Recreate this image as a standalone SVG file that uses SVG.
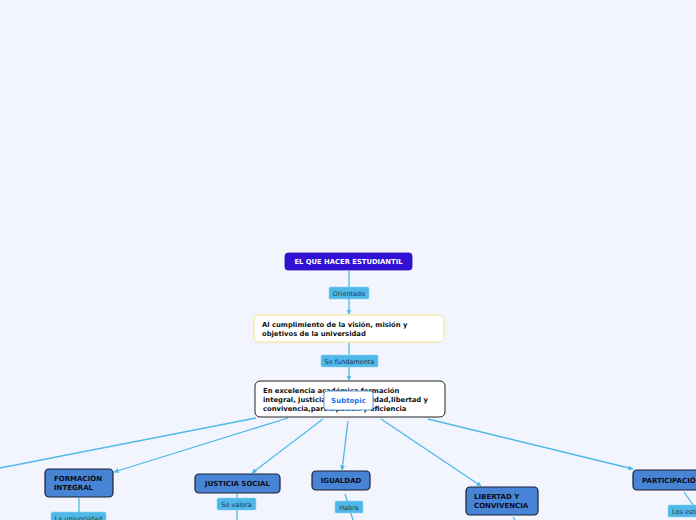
<svg xmlns="http://www.w3.org/2000/svg" width="696" height="520" viewBox="0 0 696 520">
<defs>
<marker id="arr" viewBox="0 0 10 10" refX="9" refY="5" markerWidth="5" markerHeight="5" orient="auto-start-reverse" markerUnits="userSpaceOnUse">
<path d="M0,0 L10,5 L0,10 z" fill="#4fb8e8"/>
</marker>
<style>
.ln{stroke:#4fb8e8;stroke-width:1.3;fill:none}
.lbl{fill:#4fb8e8;stroke:#8fd3f2;stroke-width:0.6}
.lt{font-family:"DejaVu Sans",sans-serif;font-size:6.5px;fill:#23384a}
.main{fill:#4784d6;stroke:#1b1e2e;stroke-width:1.2}
.mt{font-family:"DejaVu Sans",sans-serif;font-weight:bold;font-size:7px;fill:#0d0d1a}
.bt{font-family:"DejaVu Sans",sans-serif;font-weight:bold;font-size:6.8px;fill:#111}
</style>
</defs>
<rect width="696" height="520" fill="#f2f5fe"/>
<g id="connectors">
<line class="ln" x1="349" y1="271" x2="349" y2="314" marker-end="url(#arr)"/>
<line class="ln" x1="349" y1="343" x2="349" y2="380" marker-end="url(#arr)"/>
<line class="ln" x1="256" y1="418" x2="-5" y2="469"/>
<line class="ln" x1="288" y1="418" x2="114" y2="472" marker-end="url(#arr)"/>
<line class="ln" x1="323" y1="419" x2="252" y2="473" marker-end="url(#arr)"/>
<line class="ln" x1="348" y1="421" x2="342" y2="470" marker-end="url(#arr)"/>
<line class="ln" x1="381" y1="419" x2="481" y2="486" marker-end="url(#arr)"/>
<line class="ln" x1="428" y1="419" x2="633" y2="469" marker-end="url(#arr)"/>
<line class="ln" x1="79" y1="498" x2="79" y2="520"/>
<line class="ln" x1="237" y1="494" x2="237" y2="520"/>
<line class="ln" x1="345" y1="494" x2="353" y2="520"/>
<line class="ln" x1="513" y1="517" x2="515" y2="520"/>
<line class="ln" x1="684" y1="492" x2="698" y2="512"/>
<rect class="lbl" x="329" y="287" width="40" height="12" rx="1.5"/>
<text class="lt" x="349" y="295.5" text-anchor="middle">Orientado</text>
<rect class="lbl" x="321" y="355" width="57" height="12" rx="1.5"/>
<text class="lt" x="349.5" y="363.5" text-anchor="middle">Se fundamenta</text>
<rect class="lbl" x="51" y="512" width="55" height="12" rx="1.5"/>
<text class="lt" x="78.5" y="520.5" text-anchor="middle">La universidad</text>
<rect class="lbl" x="217" y="498" width="39" height="12" rx="1.5"/>
<text class="lt" x="236.5" y="506.5" text-anchor="middle">Se valora</text>
<rect class="lbl" x="335" y="501" width="28" height="12" rx="1.5"/>
<text class="lt" x="349" y="509.5" text-anchor="middle">Habra</text>
<rect class="lbl" x="668" y="505" width="40" height="12" rx="1.5"/>
<text class="lt" x="672" y="513.5">Los estudiantes</text>
</g>
<g id="root">
<rect x="285" y="253" width="127" height="17" rx="3" fill="#3310d6" stroke="#2a0fb0" stroke-width="0.8"/>
<text x="348.5" y="264" text-anchor="middle" font-family="DejaVu Sans, sans-serif" font-weight="bold" font-size="6.8" fill="#ffffff">EL QUE HACER ESTUDIANTIL</text>
</g>
<g id="vision">
<rect x="254" y="315" width="190" height="27" rx="5" fill="#ffffff" stroke="#f3e08a" stroke-width="1"/>
<text class="bt" x="262" y="327">Al cumplimiento de la visión, misión y</text>
<text class="bt" x="262" y="335.5">objetivos de la universidad</text>
</g>
<g id="excelencia">
<rect x="255" y="381" width="190" height="36" rx="5" fill="#ffffff" stroke="#222222" stroke-width="1"/>
<text class="bt" x="263" y="393">En excelencia académica,formación</text>
<text class="bt" x="263" y="402">integral, justicia social, igualdad,libertad y</text>
<text class="bt" x="263" y="410.5">convivencia,participación y eficiencia</text>
</g>
<g id="subtopic">
<rect x="324" y="391" width="49" height="19" rx="3" fill="#ffffff" stroke="#5a9ae6" stroke-width="1"/>
<text x="348.5" y="403" text-anchor="middle" font-family="DejaVu Sans, sans-serif" font-weight="bold" font-size="7" fill="#1a73e8">Subtopic</text>
</g>
<g id="formacion">
<rect class="main" x="45" y="469" width="68" height="28" rx="4"/>
<text class="mt" x="54" y="481">FORMACIÓN</text>
<text class="mt" x="54" y="490">INTEGRAL</text>
</g>
<g id="justicia">
<rect class="main" x="195" y="474" width="85" height="19" rx="4"/>
<text class="mt" x="237.5" y="486" text-anchor="middle">JUSTICIA SOCIAL</text>
</g>
<g id="igualdad">
<rect class="main" x="312" y="471" width="58" height="19" rx="4"/>
<text class="mt" x="341" y="483" text-anchor="middle">IGUALDAD</text>
</g>
<g id="libertad">
<rect class="main" x="466" y="487" width="72" height="28" rx="4"/>
<text class="mt" x="474" y="499">LIBERTAD Y</text>
<text class="mt" x="474" y="508">CONVIVENCIA</text>
</g>
<g id="participacion">
<rect class="main" x="633" y="470" width="85" height="20" rx="4"/>
<text class="mt" x="642" y="483">PARTICIPACIÓN</text>
</g>
</svg>
